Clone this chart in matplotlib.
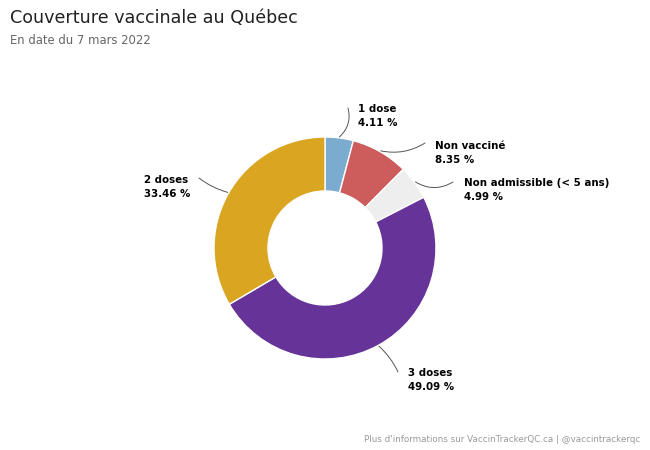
import matplotlib
matplotlib.use('Agg')
import matplotlib.pyplot as plt
import numpy as np

# Vaccine coverage in Quebec, 7 March 2022
categories = ['1 dose', 'Non vacciné', 'Non admissible (< 5 ans)', '3 doses', '2 doses']
values = [4.11, 8.35, 4.99, 49.09, 33.46]
colors = ['#7bacd0', '#cd5c5c', '#eeeeee', '#663399', '#daa520']

# label text positions (pixels from top-left) and connector start points
label_pos = [(358, 116), (435, 153), (464, 190), (408, 380), (144, 187)]
line_end = [(348, 108), (425, 143), (453, 182), (398, 372), (199, 178)]
line_rad = [-0.3, -0.2, -0.3, 0.1, 0.1]

fig = plt.figure(figsize=(6.5, 4.5), dpi=100)
ax = fig.add_axes([0, 0, 1, 1])

cx, cy, R = 325, 450 - 248, 111
wedges, _ = ax.pie(values, colors=colors, startangle=90, counterclock=False,
                   center=(cx, cy), radius=R,
                   wedgeprops=dict(width=R - 57, edgecolor='white', linewidth=1))
ax.set_xlim(0, 650)
ax.set_ylim(0, 450)
ax.set_aspect('equal')
ax.axis('off')

start = 90.0
for i in range(len(values)):
    ang = np.deg2rad(start - values[i] * 3.6 / 2)
    start -= values[i] * 3.6
    px = cx + (R + 1) * np.cos(ang)
    py = cy + (R + 1) * np.sin(ang)
    ex, ey = line_end[i][0], 450 - line_end[i][1]
    ax.annotate('', xy=(px, py), xytext=(ex, ey),
                arrowprops=dict(arrowstyle='-', color='#555555', lw=0.7,
                                connectionstyle='arc3,rad=%s' % line_rad[i],
                                shrinkA=0, shrinkB=0))
    lx, ly = label_pos[i][0], 450 - label_pos[i][1]
    ax.text(lx, ly, '%s\n%.2f %%' % (categories[i], values[i]), ha='left', va='center',
            fontsize=7.4, fontweight='bold', color='black', linespacing=1.45)

fig.text(10 / 650, 1 - 18 / 450, 'Couverture vaccinale au Québec', fontsize=12.6,
         color='#222222', va='center', ha='left')
fig.text(10 / 650, 1 - 41 / 450, 'En date du 7 mars 2022', fontsize=8.4,
         color='#666666', va='center', ha='left')
fig.text(640 / 650, 1 - 440 / 450, "Plus d'informations sur VaccinTrackerQC.ca | @vaccintrackerqc",
         fontsize=6.3, color='#999999', va='center', ha='right')

fig.savefig('out.png', dpi=100)
